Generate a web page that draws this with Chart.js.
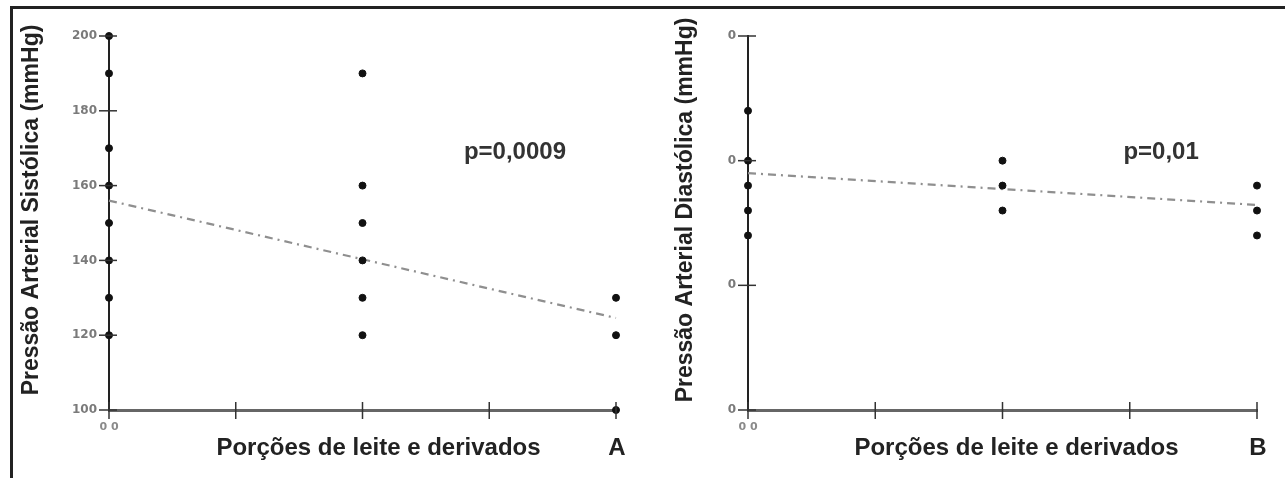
<!DOCTYPE html>
<html>
<head>
<meta charset="utf-8">
<script src="https://cdn.jsdelivr.net/npm/chart.js@4"></script>
<style>
  body{margin:0;background:#fff;}
  #wrap{position:relative;width:1285px;height:478px;overflow:hidden;background:#fff;}
  #topline{position:absolute;left:10px;top:6px;width:1275px;height:3px;background:#222;}
  #leftline{position:absolute;left:10px;top:6px;width:3px;height:472px;background:#222;}
  .box{position:absolute;top:0;height:478px;}
</style>
</head>
<body>
<div id="wrap">
  <div class="box" style="left:0;width:642px"><canvas id="chartA"></canvas></div>
  <div class="box" style="left:642px;width:643px"><canvas id="chartB"></canvas></div>
  <div id="topline"></div>
  <div id="leftline"></div>
</div>
<script>
// porções (eixo x) onde aparecem os pontos
const porcoes=[0,2,4];
// PA sistólica por grupo de porções
const sistolica=[[200,190,170,160,150,140,130,120],[190,160,150,140,130,120],[130,120,100]];
// PA diastólica por grupo de porções
const diastolica=[[88,80,76,72,68],[80,76,72],[76,72,68]];
// reta de tendência (x inicial e final)
const tendX=[0,4];
const tendSis=[156,124.6];
const tendDia=[78,72.9];
const xTicks=[0,1,2,3,4];
const sisTicks=[100,120,140,160,180,200];
const diaTicks=[40,60,80,100];

const titleFont='bold 23px "Liberation Sans", Arial, sans-serif';

function toPoints(groups){
  let pts=[];
  for(let i=0;i<groups.length;++i){
    for(let j=0;j<groups[i].length;++j){
      pts.push({x:porcoes[i],y:groups[i][j]});
    }
  }
  return pts;
}

//draws axis titles, crossing ticks and labels
const decor={
  id:'decor',
  afterDraw(chart,args,opts){
    const ctx=chart.ctx;
    const a=chart.chartArea;
    const xs=chart.scales.x, ys=chart.scales.y;
    ctx.save();
    ctx.strokeStyle='#333';
    ctx.lineWidth=1.5;
    ys.ticks.forEach(t=>{
      let py=ys.getPixelForValue(t.value);
      ctx.beginPath();ctx.moveTo(a.left-10,py);ctx.lineTo(a.left+8,py);ctx.stroke();
    });
    xs.ticks.forEach(t=>{
      let px=xs.getPixelForValue(t.value);
      ctx.beginPath();ctx.moveTo(px,a.bottom-8);ctx.lineTo(px,a.bottom+9);ctx.stroke();
    });
    // "0 0" under the origin
    ctx.fillStyle='#8a8a8a';
    ctx.font='bold 11px "DejaVu Sans", sans-serif';
    ctx.textAlign='center';
    ctx.textBaseline='middle';
    ctx.fillText('0 0',a.left,a.bottom+17);
    ctx.fillStyle='#222';
    // y title
    ctx.font=titleFont;
    ctx.translate(opts.yTitleX,210);
    ctx.rotate(-Math.PI/2);
    ctx.fillText(opts.yTitle,0,0);
    ctx.setTransform(1,0,0,1,0,0);
    // x title and letter
    ctx.font='bold 24px "Liberation Sans", Arial, sans-serif';
    ctx.textBaseline='alphabetic';
    ctx.fillText('Porções de leite e derivados',(a.left+a.right)/2+opts.xTitleShift,455);
    ctx.fillText(opts.letter,a.right+1,455);
    // p value
    ctx.fillStyle='#333';
    ctx.textAlign='left';
    ctx.fillText(opts.pText,xs.getPixelForValue(opts.pAt[0]),ys.getPixelForValue(opts.pAt[1]));
    ctx.restore();
  }
};

function makeChart(id,groups,tend,yTicks,yMin,yMax,yWidth,padRight,opts,tickLabel){
  new Chart(document.getElementById(id),{
    type:'scatter',
    data:{
      datasets:[{
        data:toPoints(groups),
        backgroundColor:'#111',
        borderColor:'#111',
        pointRadius:3.5,
        pointHoverRadius:3.5,
        clip:false
      },{
        type:'line',
        data:[{x:tendX[0],y:tend[0]},{x:tendX[1],y:tend[1]}],
        borderColor:'#8f8f8f',
        borderWidth:2.2,
        borderDash:[8,5,2,5],
        pointRadius:0,
        fill:false,
        clip:false
      }]
    },
    options:{
      responsive:true,
      maintainAspectRatio:false,
      animation:false,
      layout:{padding:{top:36,bottom:48,left:0,right:padRight}},
      plugins:{legend:{display:false},tooltip:{enabled:false},decor:opts},
      scales:{
        x:{
          type:'linear',min:0,max:4,
          afterBuildTicks:s=>{s.ticks=xTicks.map(v=>({value:v}));},
          afterFit:s=>{s.height=20;},
          grid:{display:false},
          border:{display:true,color:'#666',width:3},
          ticks:{display:false}
        },
        y:{
          type:'linear',min:yMin,max:yMax,
          afterBuildTicks:s=>{s.ticks=yTicks.map(v=>({value:v}));},
          afterFit:s=>{s.width=yWidth;},
          grid:{display:false},
          border:{display:true,color:'#222',width:2},
          ticks:{
            padding:4,
            color:'#7a7a7a',
            font:{family:'DejaVu Sans',size:12,weight:'bold'},
            callback:tickLabel
          }
        }
      }
    },
    plugins:[decor]
  });
}

makeChart('chartA',sistolica,tendSis,sisTicks,100,200,109,26,
  {yTitle:'Pressão Arterial Sistólica (mmHg)',yTitleX:32,xTitleShift:16,letter:'A',pText:'p=0,0009',pAt:[2.8,167.2]},
  v=>String(v));
makeChart('chartB',diastolica,tendDia,diaTicks,40,100,106,28,
  {yTitle:'Pressão Arterial Diastólica (mmHg)',yTitleX:44,xTitleShift:14,letter:'B',pText:'p=0,01',pAt:[2.95,80.2]},
  v=>String(v).slice(-1));
</script>
</body>
</html>
